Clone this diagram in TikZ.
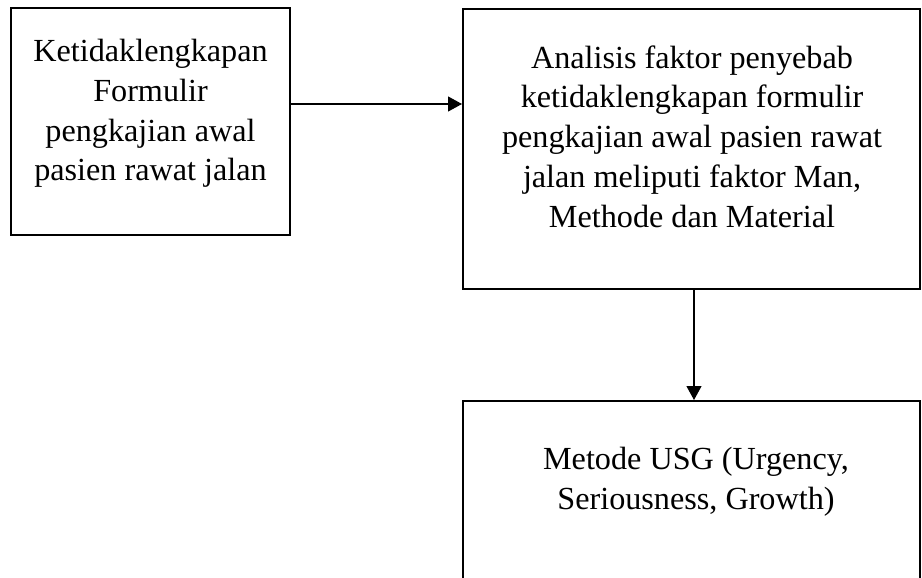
\documentclass[tikz,border=0pt]{standalone}
\usepackage{fontspec}
\setmainfont{Liberation Serif}
\usetikzlibrary{arrows.meta}
\tikzset{
  box/.style={draw=black, line width=1pt, rectangle, inner sep=0pt},
  label/.style={align=center, inner sep=0pt, font=\fontsize{16.1}{19.85}\selectfont},
  arr/.style={draw=black, line width=0.6pt, -{Triangle[length=7pt,width=7.5pt]}}
}
\begin{document}
\begin{tikzpicture}[x=0.5pt,y=-0.5pt]
\useasboundingbox (0,0) rectangle (922,578);
\clip (0,0) rectangle (922,578);
\node[box, minimum width=139.5pt, minimum height=113.5pt] (b1) at (150.5,121.5) {};
\node[box, minimum width=228.5pt, minimum height=140pt] (b2) at (691.5,149) {};
\node[box, minimum width=228.5pt, minimum height=109.5pt] (b3) at (691.5,510.5) {};
\node[label] (t1) at (150.5,113.5) {Ketidaklengkapan\\Formulir\\pengkajian awal\\pasien rawat jalan};
\node[label] (t2) at (692,136.5) {Analisis faktor penyebab\\ketidaklengkapan formulir\\pengkajian awal pasien rawat\\jalan meliputi faktor Man,\\Methode dan Material};
\node[label] (t3) at (696,482) {Metode USG (Urgency,\\Seriousness, Growth)};
\draw[arr] ([yshift=8.75pt]b1.east) -- ([yshift=8.75pt]b1.east -| b2.west);
\draw[arr] ([xshift=1.25pt]b2.south) -- ([xshift=1.25pt]b2.south |- b3.north);
\end{tikzpicture}
\end{document}
